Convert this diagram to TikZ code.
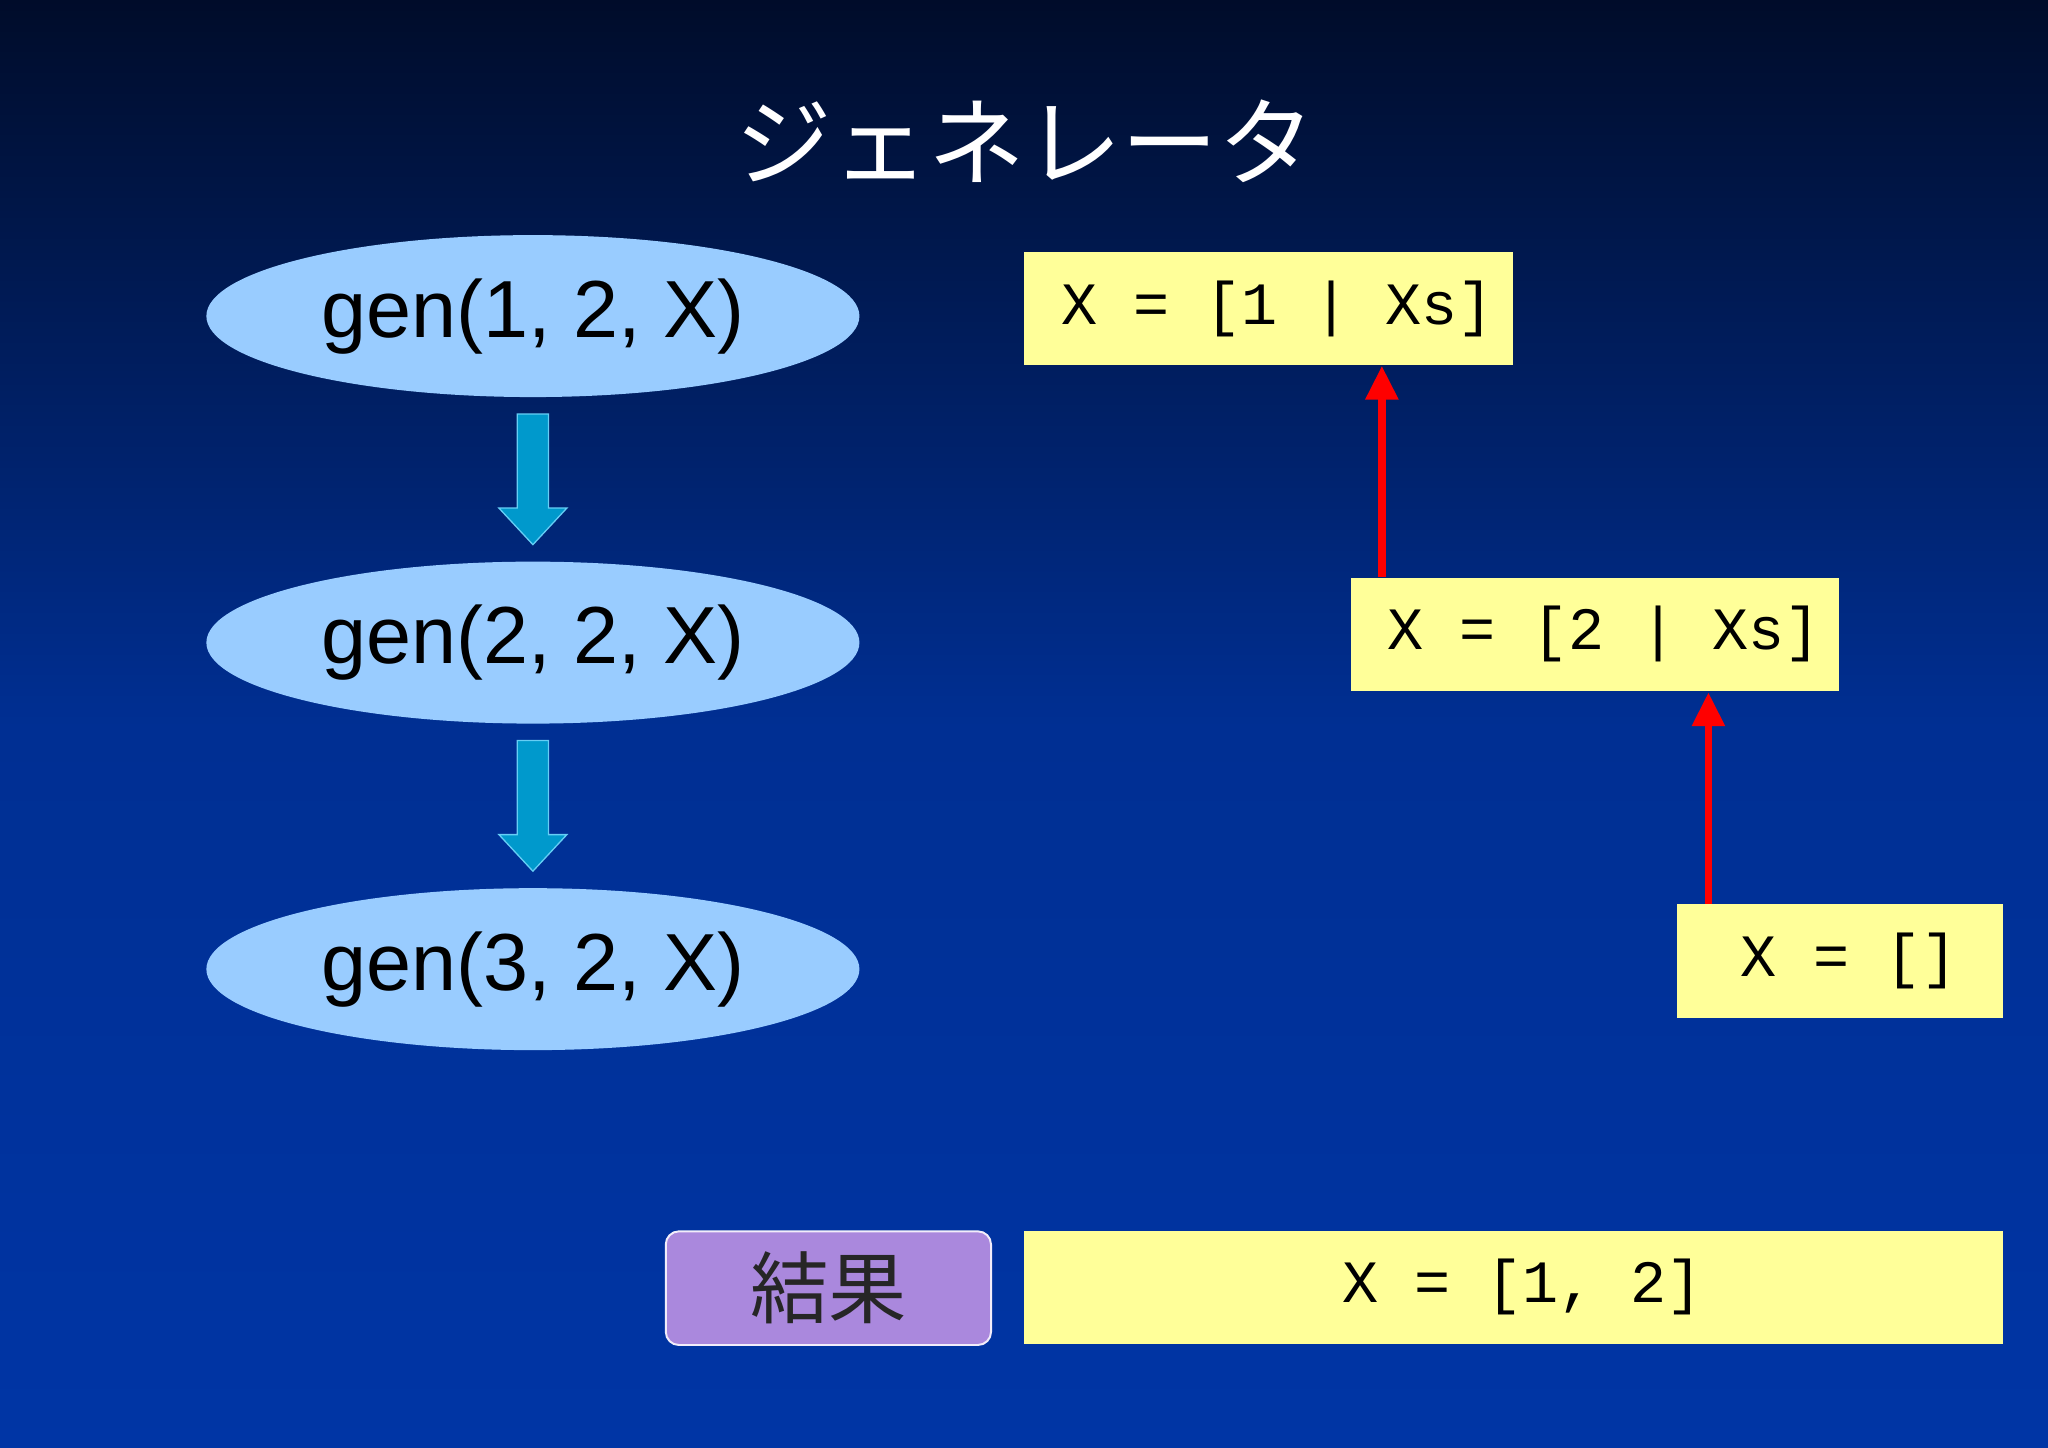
\documentclass[tikz,border=0pt]{standalone}
\usepackage{fontspec}
\setmainfont{Liberation Sans}
\newfontfamily\cjk{Noto Sans CJK JP}
\newfontfamily\monof{Liberation Mono}
\usetikzlibrary{arrows.meta,shapes.arrows}
\definecolor{bgtop}{HTML}{000C2A}
\definecolor{bgbot}{HTML}{0035A5}
\definecolor{ell}{HTML}{99CCFF}
\definecolor{ybox}{HTML}{FFFF99}
\definecolor{blk}{HTML}{0099CC}
\definecolor{purp}{HTML}{AA88DD}
\tikzset{
  genell/.style={ellipse, fill=ell, minimum width=500pt, minimum height=124pt, inner sep=0pt, font=\fontsize{62}{62}\selectfont, text=black},
  ybx/.style={fill=ybox, anchor=north west, inner sep=0pt, font=\monof\fontsize{46}{46}\selectfont, text=black, align=left},
  redarr/.style={draw=red, line width=6pt, -{Triangle[width=24pt,length=26pt]}},
}
\usetikzlibrary{shapes.geometric}
\begin{document}
\begin{tikzpicture}[x=1pt,y=-1pt]
\shade[top color=bgtop, bottom color=bgbot, middle color=bgbot!85!bgtop] (0,0) rectangle (1568,1108);
\useasboundingbox (0,0) rectangle (1568,1108);
\node[text=white, font=\cjk\fontsize{74}{74}\selectfont] (title) at (785,108) {ジェネレータ};
\node[genell] (g1) at (408,242) {\raisebox{-8pt}{gen(1, 2, X)}};
\node[genell] (g2) at (408,492) {\raisebox{-8pt}{gen(2, 2, X)}};
\node[genell] (g3) at (408,742) {\raisebox{-8pt}{gen(3, 2, X)}};
\foreach \y in {317,567}{
  \fill[blk, draw=cyan!60!white, line width=1pt] (396,\y) -- (420,\y) -- (420,\y+72) -- (434,\y+72) -- (408,\y+100) -- (382,\y+72) -- (396,\y+72) -- cycle;
}
\node[ybx, minimum width=374pt, minimum height=86pt] (b1) at (784,193) {\hspace{14pt}X = [1 | Xs]};
\node[ybx, minimum width=374pt, minimum height=87pt] (b2) at (1034,442) {\hspace{14pt}X = [2 | Xs]};
\node[ybx, minimum width=249pt, minimum height=87pt] (b3) at (1284,692) {\hspace{14pt}X = []};
\node[ybx, minimum width=749pt, minimum height=87pt] (b4) at (784,942) {\hspace{14pt}X = [1, 2]};
\node[fill=purp, draw=white!85!purp, line width=1.5pt, rounded corners=10pt, minimum width=249pt, minimum height=87pt, anchor=north west, font=\cjk\fontsize{60}{60}\selectfont, text=black!85] (res) at (509,942) {結果};
\coordinate (r1s) at (1058,442);
\coordinate (r1e) at (1058,280);
\coordinate (r2s) at (1308,692);
\coordinate (r2e) at (1308,530);
\draw[redarr] (r1s) -- (r1e);
\draw[redarr] (r2s) -- (r2e);
\end{tikzpicture}
\end{document}
